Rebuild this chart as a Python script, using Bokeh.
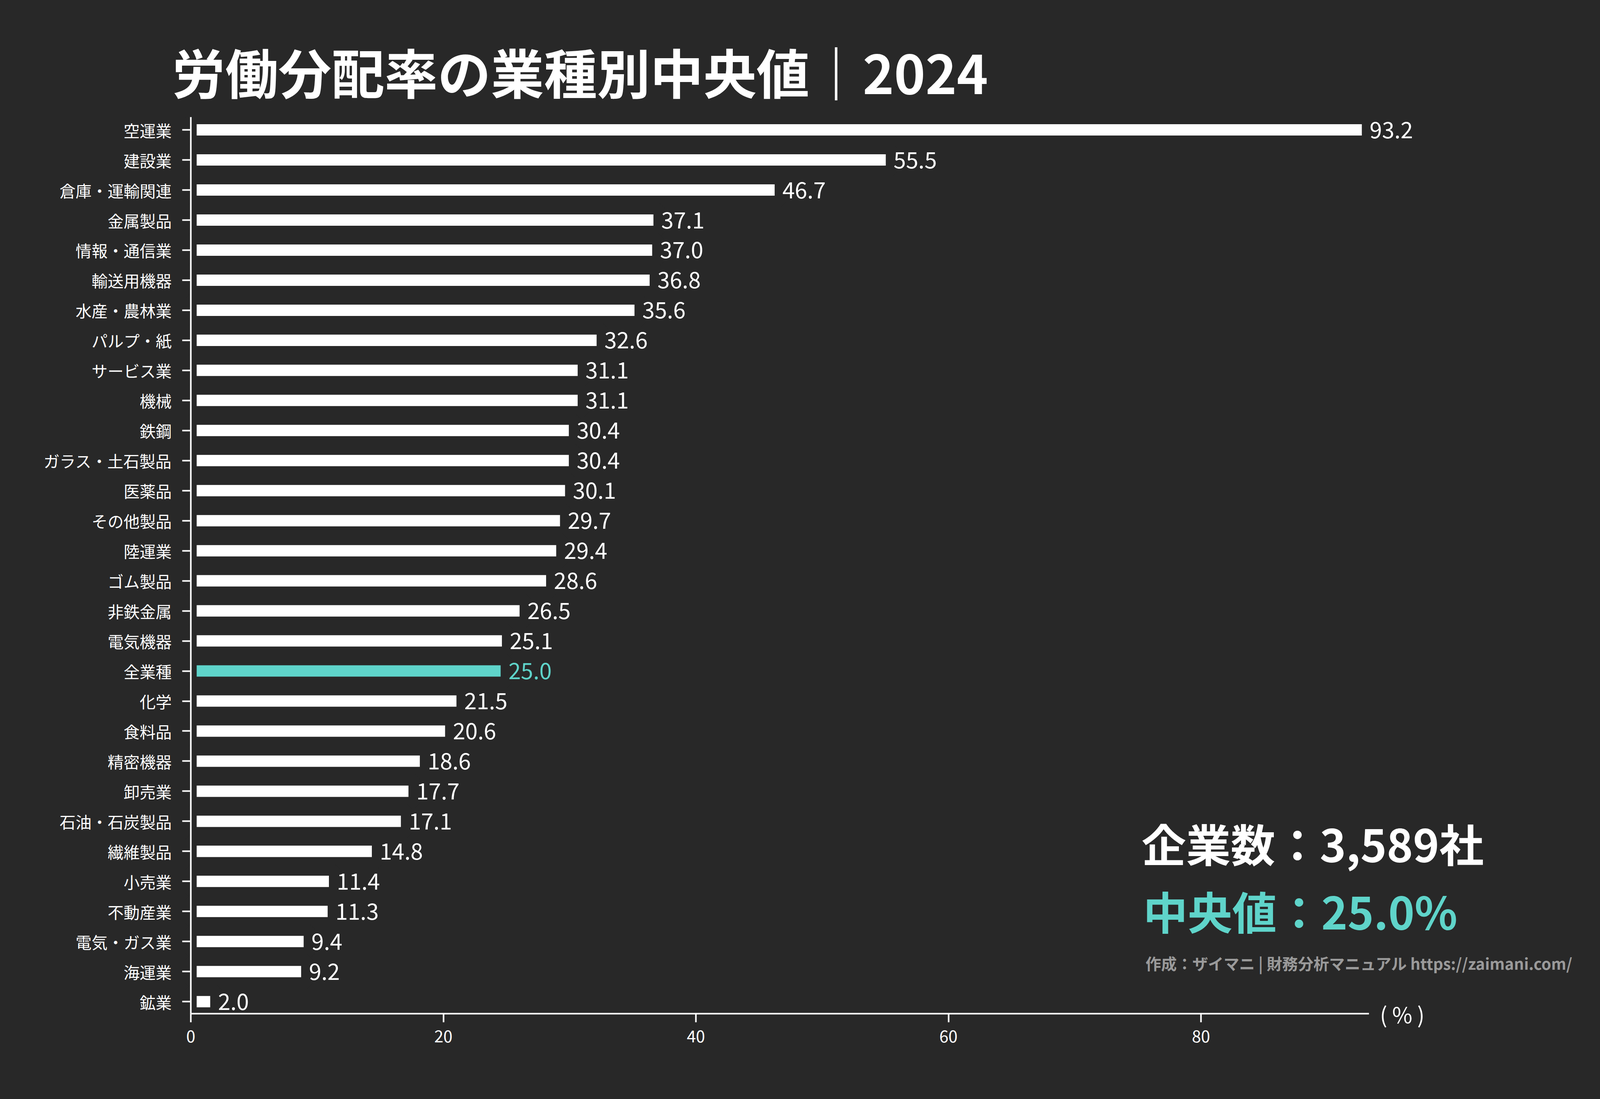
from bokeh.plotting import figure
from bokeh.models import Range1d, FixedTicker, Label, LabelSet, ColumnDataSource, Title
from bokeh.core.properties import value
from bokeh.embed import file_html
from bokeh.resources import INLINE

# ---- data ----
categories = ["空運業", "建設業", "倉庫・運輸関連", "金属製品", "情報・通信業", "輸送用機器",
              "水産・農林業", "パルプ・紙", "サービス業", "機械", "鉄鋼", "ガラス・土石製品",
              "医薬品", "その他製品", "陸運業", "ゴム製品", "非鉄金属", "電気機器", "全業種",
              "化学", "食料品", "精密機器", "卸売業", "石油・石炭製品", "繊維製品", "小売業",
              "不動産業", "電気・ガス業", "海運業", "鉱業"]
values = [93.2, 55.5, 46.7, 37.1, 37.0, 36.8, 35.6, 32.6, 31.1, 31.1, 30.4, 30.4,
          30.1, 29.7, 29.4, 28.6, 26.5, 25.1, 25.0, 21.5, 20.6, 18.6, 17.7, 17.1,
          14.8, 11.4, 11.3, 9.4, 9.2, 2.0]
highlight = "全業種"
x_ticks = [0, 20, 40, 60, 80]
title_text = "労働分配率の業種別中央値｜2024"
company_text = "企業数：3,589社"
median_text = "中央値：25.0%"
credit_text = "作成：ザイマニ | 財務分析マニュアル https://zaimani.com/"
unit_text = "( % )"

BG = "#282828"
WHITE = "#ffffff"
TEAL = "#5fd4ca"
GREY = "#9a9a9a"
FONT = "Noto Sans CJK JP"

n = len(categories)
ypos = [n - 1 - i for i in range(n)]
colors = [TEAL if c == highlight else WHITE for c in categories]
labels = [f"{v:.1f}" for v in values]

# axis extents (data units) and the pixel box of the drawn axes
x_hi = 93.3
y_lo, y_hi = -0.40, n - 1 + 0.43
W, H = 4105, 2798
B_LEFT, B_RIGHT, B_TOP, B_BOTTOM = 5, 5, 299, 8
ORIGIN_X = 488                         # canvas pixel of x = 0
AXIS_W, AXIS_H = 3016, 2296            # pixel length of the drawn x / y axis lines
frame_w = W - B_LEFT - B_RIGHT
frame_h = H - B_TOP - B_BOTTOM
sx = AXIS_W / x_hi
x_start = -(ORIGIN_X - B_LEFT) / sx
x_end = x_start + frame_w / sx
y_start = y_hi - (y_hi - y_lo) * frame_h / AXIS_H

src = ColumnDataSource(dict(y=ypos, v=values, c=colors, lab=labels, cat=categories))

p = figure(width=W, height=H,
           min_border_left=B_LEFT, min_border_right=B_RIGHT,
           min_border_top=B_TOP, min_border_bottom=B_BOTTOM,
           x_range=Range1d(x_start, x_end), y_range=Range1d(y_start, y_hi),
           output_backend="svg", toolbar_location=None,
           title=Title(text=title_text, align="left", offset=ORIGIN_X - B_LEFT - 48,
                       standoff=40, text_font=FONT, text_font_style="bold",
                       text_font_size="136px", text_color=WHITE))

p.background_fill_color = BG
p.border_fill_color = BG
p.outline_line_color = None
p.grid.visible = False

p.hbar(y="y", left=0, right="v", height=0.767, fill_color="c",
       line_color=BG, line_width=30, source=src)

p.add_layout(LabelSet(x="v", y="y", text="lab", text_color="c", x_offset=5,
                      text_align="left", text_baseline="middle",
                      text_font=value(FONT), text_font_size="57px", source=src))

# axes
for ax in (p.xaxis[0], p.yaxis[0]):
    ax.axis_line_color = WHITE
    ax.axis_line_width = 4
    ax.major_tick_line_color = WHITE
    ax.major_tick_line_width = 4
    ax.major_tick_out = 22
    ax.major_tick_in = 0
    ax.minor_tick_line_color = None
    ax.major_label_text_color = WHITE
    ax.major_label_text_font = FONT

p.xaxis.ticker = FixedTicker(ticks=x_ticks)
p.xaxis.fixed_location = y_lo
p.xaxis.bounds = (0, x_hi)
p.xaxis.major_label_text_font_size = "42px"
p.xaxis.major_label_standoff = 20

p.yaxis.ticker = FixedTicker(ticks=ypos)
p.yaxis.fixed_location = 0
p.yaxis.bounds = (y_lo, y_hi)
p.yaxis.major_label_overrides = {y: c for y, c in zip(ypos, categories)}
p.yaxis.major_label_text_font_size = "41px"
p.yaxis.major_label_standoff = 27

# unit label at the end of the x axis
p.add_layout(Label(x=x_hi, y=y_lo, x_offset=28, text=unit_text,
                   text_font=FONT, text_font_size="56px",
                   text_color=WHITE, text_baseline="middle", text_align="left"))

# summary texts (data position of the axis origin + pixel offsets)
for txt, dy, dx, size, col in [(company_text, 633, 2434, "114px", WHITE),
                               (median_text, 460, 2438, "114px", TEAL),
                               (credit_text, 325, 2444, "40px", GREY)]:
    p.add_layout(Label(x=0, y=y_start, x_offset=dx, y_offset=dy, text=txt,
                       text_font=FONT, text_font_style="bold", text_font_size=size,
                       text_color=col, text_baseline="middle", text_align="left"))

html = file_html(p, INLINE).replace(
    "<head>", "<head><style>html, body { background: #282828; }</style>", 1)
open("out.html", "w").write(html)
